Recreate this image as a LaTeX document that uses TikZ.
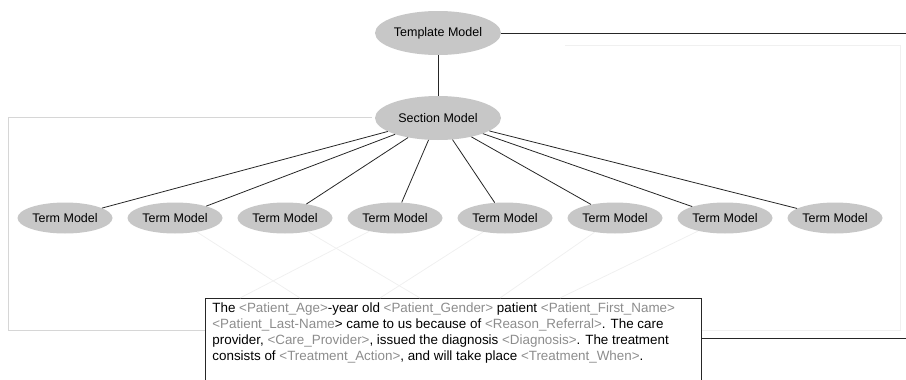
\documentclass[tikz,border=0pt]{standalone}
\usepackage{fontspec}
\setmainfont{Liberation Sans}
\usetikzlibrary{shapes.geometric}
\begin{document}
\begin{tikzpicture}[x=1pt,y=-1pt,
  model/.style={ellipse, fill=black!22, inner sep=0pt, font=\fontsize{12.5}{14}\selectfont},
  bigmodel/.style={model, minimum width=126pt, minimum height=44pt},
  termmodel/.style={model, minimum width=95pt, minimum height=31pt},
  link/.style={draw=black!85, line width=0.8pt},
  frameline/.style={draw=black!16, line width=1pt},
  faintline/.style={draw=black!6, line width=0.8pt},
  hole/.style={text=black!45}]
\useasboundingbox (0,0) rectangle (906,380);

% light frames behind the tree
\draw[frameline] (372,117) -- (8,117) -- (8,330) -- (205,330);
\draw[faintline] (565,45) -- (900,45) -- (900,330) -- (701,330);

% model hierarchy
\node[bigmodel] (tpl) at (438,33) {Template Model};
\node[bigmodel] (sec) at (438,118) {Section Model};
\foreach \i in {1,...,8}
  \node[termmodel] (t\i) at ({65+110*(\i-1)},218) {Term Model};

\draw[link] (tpl) -- (sec);
\foreach \i in {1,...,8}
  \draw[link] (sec) -- (t\i);

\coordinate (tplend) at (906,33);
\draw[link] (tpl) -- (tplend);

% template text
\node[anchor=north west, draw=black!85, line width=0.8pt, inner xsep=7pt, inner ysep=4pt,
      font=\fontsize{13.4}{16}\selectfont] (txt) at (205,298)
  {\parbox[t][120pt][t]{482pt}{\raggedright
   The {\color{black!45}<Patient\_Age>}-year old {\color{black!45}<Patient\_Gender>} patient {\color{black!45}<Patient\_First\_Name>}\\
   {\color{black!45}<Patient\_Last-Name}> came to us because of {\color{black!45}<Reason\_Referral>}. The care\\
   provider, {\color{black!45}<Care\_Provider>}, issued the diagnosis {\color{black!45}<Diagnosis>}. The treatment\\
   consists of {\color{black!45}<Treatment\_Action>}, and will take place {\color{black!45}<Treatment\_When>}.}};

\coordinate (txtend) at (906,338);
\draw[link] (txt.east |- txtend) -- (txtend);

% faint links from terms to the text slots
\coordinate (s1) at (300,298);
\coordinate (s2) at (240,298);
\coordinate (s3) at (420,298);
\coordinate (s4) at (380,298);
\coordinate (s5) at (500,298);
\coordinate (s6) at (560,298);
\draw[faintline] (t2) -- (s1);
\draw[faintline] (t4) -- (s2);
\draw[faintline] (t3) -- (s3);
\draw[faintline] (t5) -- (s4);
\draw[faintline] (t6) -- (s5);
\draw[faintline] (t7) -- (s6);
\end{tikzpicture}
\end{document}
